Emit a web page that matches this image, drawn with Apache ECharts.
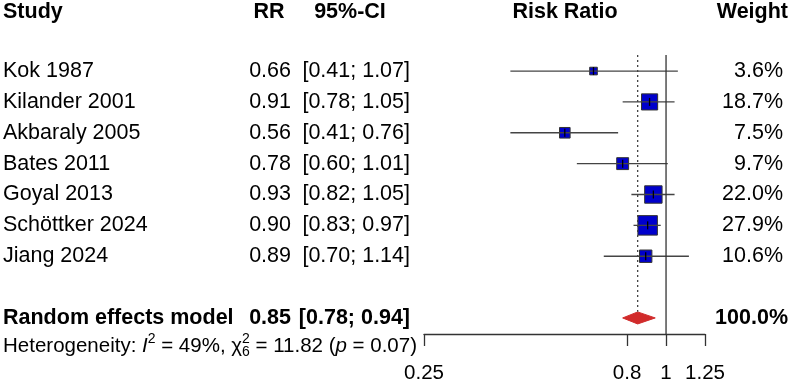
<!DOCTYPE html>
<html>
<head>
<meta charset="utf-8">
<script src="https://cdn.jsdelivr.net/npm/echarts@6/dist/echarts.min.js"></script>
<style>
  html, body { margin: 0; padding: 0; background: #fff; }
  #forest { width: 790px; height: 384px; }
</style>
</head>
<body>
<div id="forest"></div>
<script>
// study data
var studies = ['Kok 1987', 'Kilander 2001', 'Akbaraly 2005', 'Bates 2011', 'Goyal 2013', 'Schöttker 2024', 'Jiang 2024'];
var rr = [0.66, 0.91, 0.56, 0.78, 0.93, 0.90, 0.89];
var ciLow = [0.41, 0.78, 0.41, 0.60, 0.82, 0.83, 0.70];
var ciHigh = [1.07, 1.05, 0.76, 1.01, 1.05, 0.97, 1.14];
var weight = [3.6, 18.7, 7.5, 9.7, 22.0, 27.9, 10.6];

// random effects model
var summaryLabel = 'Random effects model';
var summary = [0.85, 0.78, 0.94];
var summaryWeight = 100.0;

// heterogeneity
var i2 = 49;
var chi2 = 11.82;
var df = 6;
var pval = 0.07;

// axis
var tickValues = [0.25, 0.8, 1, 1.25];
var tickLabels = ['0.25', '0.8', '1', '1.25'];

var FONT = '"Liberation Sans", Arial, sans-serif';
var FS = 21.5;
var rowMin = 0.48, rowMax = 9.52;
var summaryRow = 9;

var myChart = echarts.init(document.getElementById('forest'));

function txt(x, y, s, align, bold, size) {
  return {
    type: 'text', x: x, y: y,
    style: {
      text: s, fill: '#000',
      font: (bold ? 'bold ' : '') + (size || FS) + 'px ' + FONT,
      textAlign: align, align: align,
      textVerticalAlign: 'middle', verticalAlign: 'middle'
    }
  };
}

var studyData = [];
for (var i = 0; i < studies.length; i++) {
  studyData.push([Math.log(rr[i]), i + 1, Math.log(ciLow[i]), Math.log(ciHigh[i]), weight[i], i]);
}

// heterogeneity text pieces, laid out with measured widths
var ctx = document.createElement('canvas').getContext('2d');
function w(s, font) { ctx.font = font; return ctx.measureText(s).width; }
var hetPieces = [
  { t: 'Heterogeneity: ' },
  { t: 'I', it: true },
  { t: '2', sup: true },
  { t: ' = ' + i2 + '%, ' },
  { t: 'χ' },
  { t: String(df), sub: true, keep: true },
  { t: '2', sup: true },
  { t: ' = ' + chi2.toFixed(2) + ' (' },
  { t: 'p', it: true },
  { t: ' = ' + pval.toFixed(2) + ')' }
];
var hetY = 346;
var hetEls = [];
var hx = 3;
hetPieces.forEach(function (p) {
  var size = (p.sup || p.sub) ? 14 : 20.5;
  var font = (p.it ? 'italic ' : '') + size + 'px ' + FONT;
  var y = p.sup ? hetY - 7 : (p.sub ? hetY + 6 : hetY);
  hetEls.push({
    type: 'text', x: hx, y: y,
    style: { text: p.t, fill: '#000', font: font, textAlign: 'left', align: 'left', textVerticalAlign: 'middle', verticalAlign: 'middle' }
  });
  if (!p.keep) hx += w(p.t, font);
});

var option = {
  animation: false,
  grid: { left: 424, right: 85, top: 55, bottom: 49, containLabel: false },
  xAxis: {
    type: 'value',
    min: Math.log(tickValues[0]),
    max: Math.log(tickValues[tickValues.length - 1]),
    splitLine: { show: false },
    axisLine: { show: true, onZero: false, lineStyle: { color: '#333', width: 1.3 } },
    axisTick: { show: true, length: 12, customValues: tickValues.map(Math.log), lineStyle: { color: '#333', width: 1.3 } },
    axisLabel: {
      customValues: tickValues.map(Math.log),
      margin: 29,
      fontSize: 20.5, color: '#000', fontFamily: FONT,
      formatter: function (v) {
        var best = 0;
        for (var k = 0; k < tickValues.length; k++) {
          if (Math.abs(Math.log(tickValues[k]) - v) < Math.abs(Math.log(tickValues[best]) - v)) best = k;
        }
        return tickLabels[best];
      }
    }
  },
  yAxis: { type: 'value', inverse: true, min: rowMin, max: rowMax, show: false },
  graphic: [
    txt(3, 12, 'Study', 'left', true),
    txt(269, 12, 'RR', 'center', true),
    txt(350, 12, '95%-CI', 'center', true),
    txt(565, 12, 'Risk Ratio', 'center', true),
    txt(788, 12, 'Weight', 'right', true)
  ].concat(hetEls),
  series: [
    {
      // no-effect line
      type: 'line', symbol: 'none', silent: true,
      lineStyle: { color: '#333', width: 1.3 },
      data: [[0, rowMin], [0, rowMax]]
    },
    {
      // pooled estimate line
      type: 'line', symbol: 'none', silent: true,
      lineStyle: { color: '#444', width: 1.3, type: [2, 3] },
      data: [[Math.log(summary[0]), rowMin], [Math.log(summary[0]), summaryRow - 0.2]]
    },
    {
      type: 'custom', silent: true,
      data: studyData,
      renderItem: function (params, api) {
        var c = api.coord([api.value(0), api.value(1)]);
        var l = api.coord([api.value(2), api.value(1)]);
        var h = api.coord([api.value(3), api.value(1)]);
        var s = Math.sqrt(api.value(4)) * 3.5 + 1;
        var idx = api.value(5);
        return {
          type: 'group',
          children: [
            { type: 'rect', shape: { x: c[0] - s / 2, y: c[1] - s / 2, width: s, height: s }, style: { fill: '#0000CC', stroke: '#333', lineWidth: 1 } },
            { type: 'line', shape: { x1: l[0], y1: l[1], x2: h[0], y2: h[1] }, style: { stroke: '#444', lineWidth: 1.3 } },
            { type: 'line', shape: { x1: c[0], y1: c[1] - 4, x2: c[0], y2: c[1] + 4 }, style: { stroke: '#000', lineWidth: 1.3 } },
            txt(3, c[1], studies[idx], 'left', false),
            txt(291, c[1], rr[idx].toFixed(2), 'right', false),
            txt(410, c[1], '[' + ciLow[idx].toFixed(2) + '; ' + ciHigh[idx].toFixed(2) + ']', 'right', false),
            txt(783, c[1], weight[idx].toFixed(1) + '%', 'right', false)
          ]
        };
      }
    },
    {
      type: 'custom', silent: true,
      data: [[Math.log(summary[0]), summaryRow, Math.log(summary[1]), Math.log(summary[2])]],
      renderItem: function (params, api) {
        var c = api.coord([api.value(0), api.value(1)]);
        var l = api.coord([api.value(2), api.value(1)]);
        var h = api.coord([api.value(3), api.value(1)]);
        return {
          type: 'group',
          children: [
            { type: 'polygon', shape: { points: [[l[0], c[1]], [c[0], c[1] - 6], [h[0], c[1]], [c[0], c[1] + 6]] }, style: { fill: '#D12B2B', stroke: '#D12B2B', lineWidth: 1 } },
            txt(3, c[1], summaryLabel, 'left', true),
            txt(291, c[1], summary[0].toFixed(2), 'right', true),
            txt(410, c[1], '[' + summary[1].toFixed(2) + '; ' + summary[2].toFixed(2) + ']', 'right', true),
            txt(788, c[1], summaryWeight.toFixed(1) + '%', 'right', true)
          ]
        };
      }
    }
  ]
};

myChart.setOption(option);
</script>
</body>
</html>
